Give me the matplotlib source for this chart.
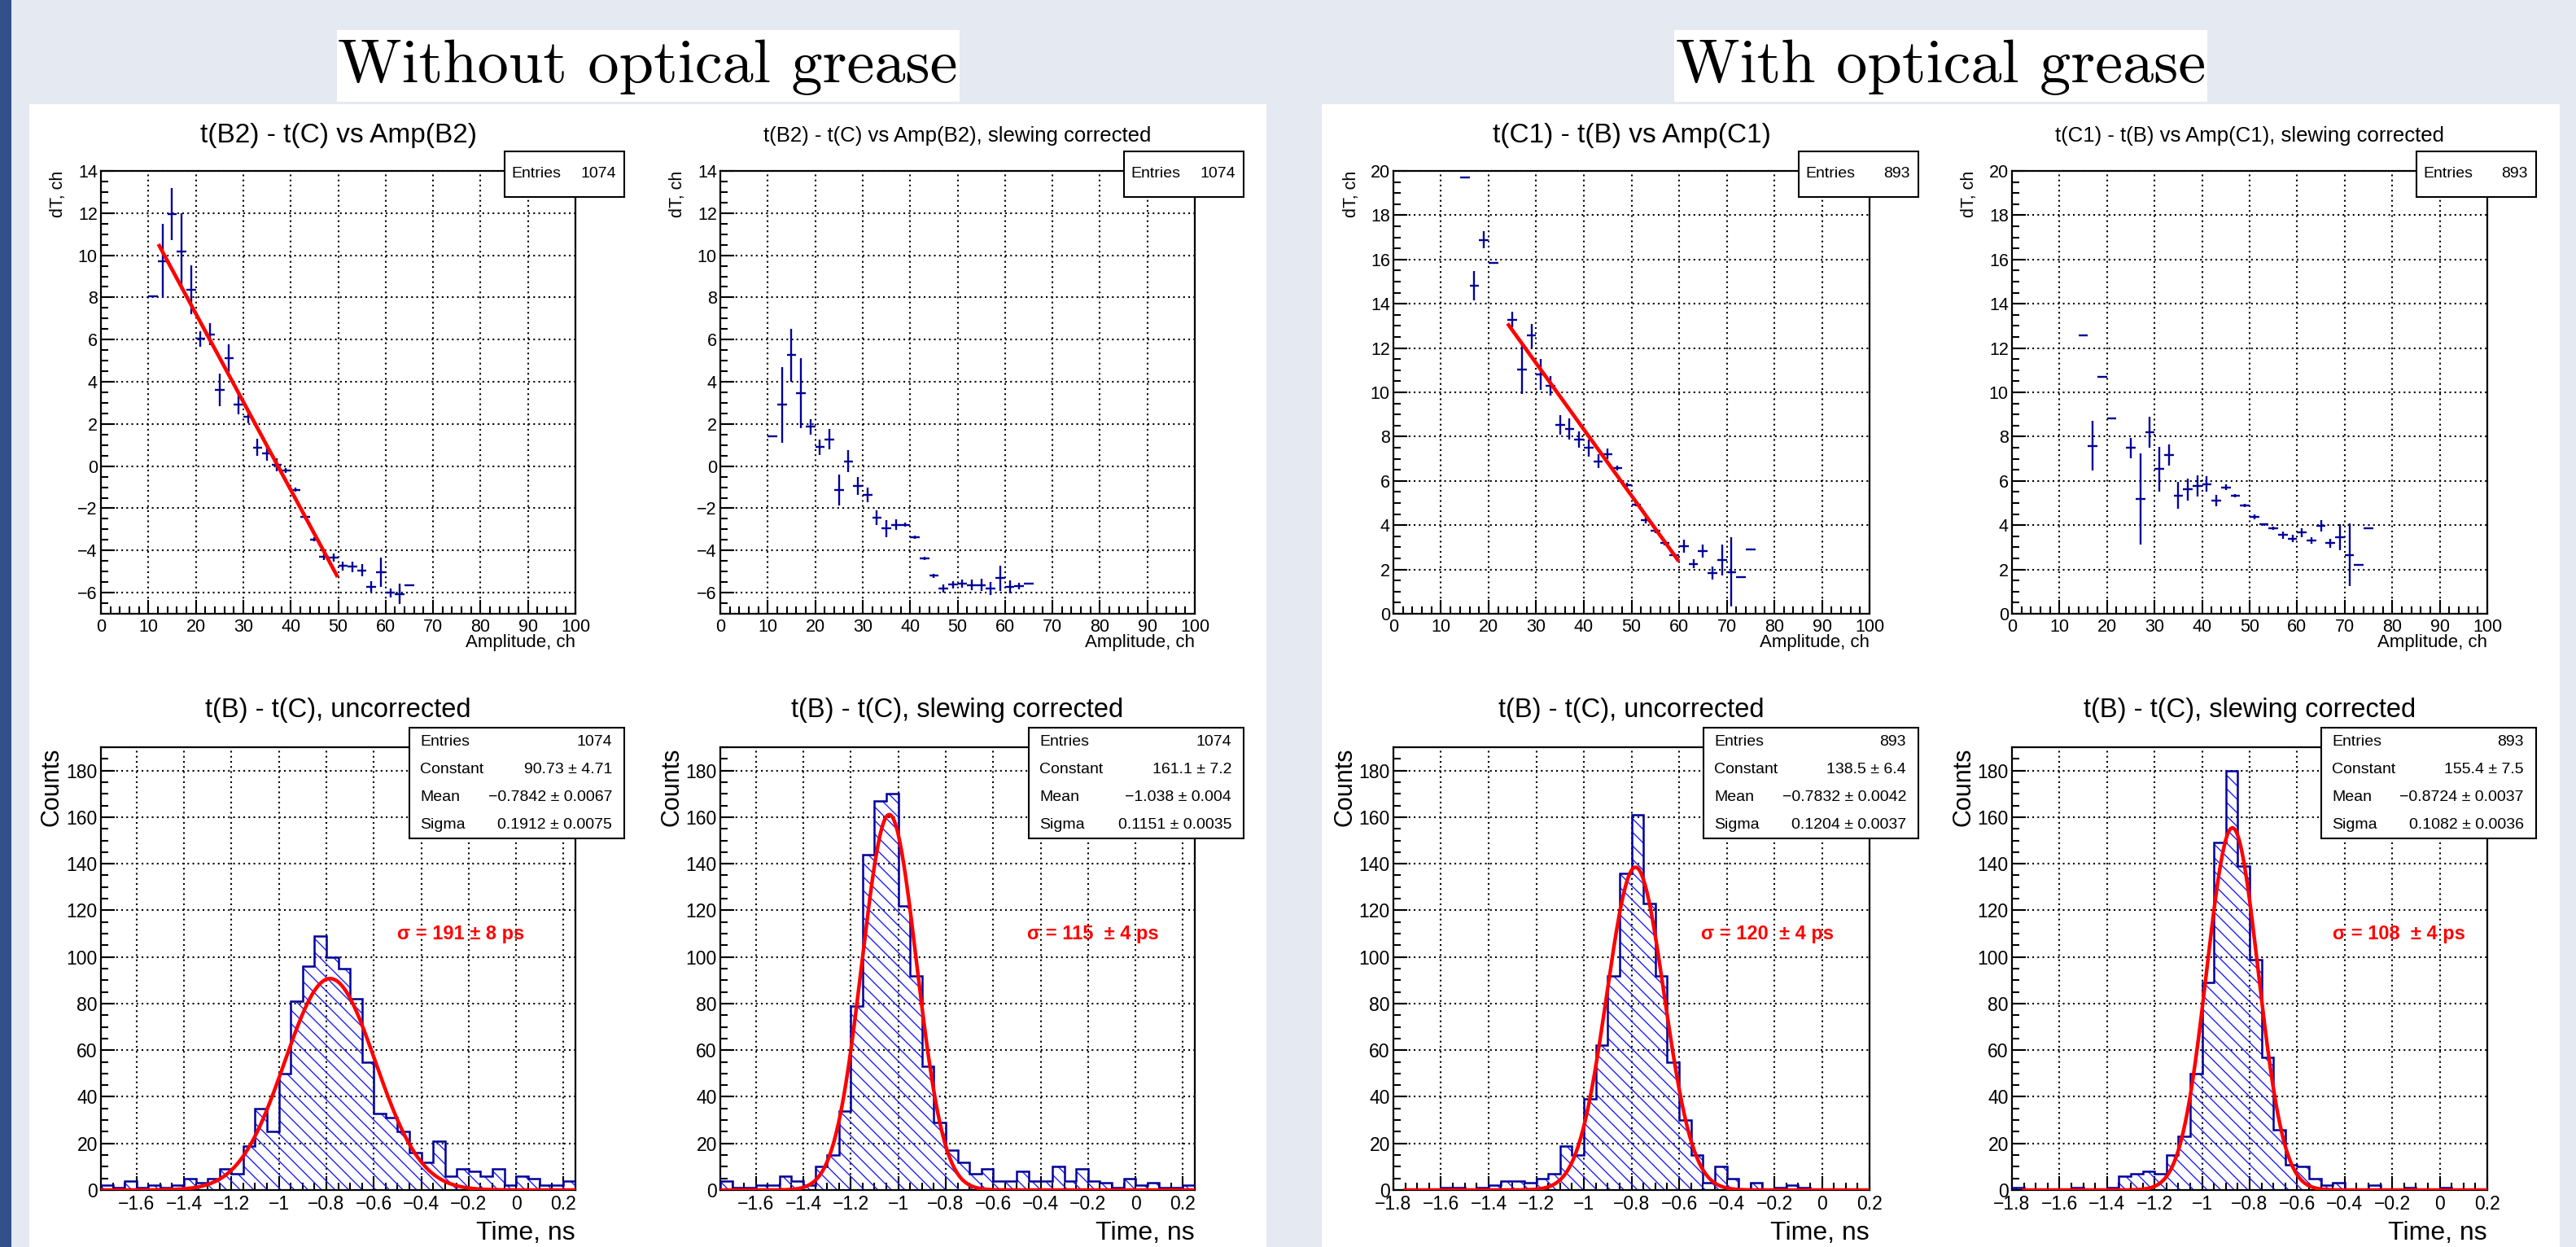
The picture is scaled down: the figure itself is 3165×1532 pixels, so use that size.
import numpy as np
import matplotlib
matplotlib.use("Agg")
import matplotlib.pyplot as plt
from matplotlib.patches import Rectangle
from matplotlib.ticker import MultipleLocator, FuncFormatter

plt.rcParams['font.family'] = ['Liberation Sans', 'DejaVu Sans']
plt.rcParams['hatch.linewidth'] = 1.0

# ---------------- data ----------------
# top row: profiles dT vs amplitude (bin centres, mean, error)
amp_x_b2 = [11, 13, 15, 17, 19, 21, 23, 25, 27, 29, 31, 33, 35, 37, 39, 41, 43, 45,
            47, 49, 51, 53, 55, 57, 59, 61, 63, 65]
dt_b2 = [8.06, 9.73, 11.96, 10.18, 8.37, 6.03, 6.25, 3.62, 5.11, 2.93, 2.33, 0.89, 0.59,
         0.07, -0.20, -1.12, -2.41, -3.47, -4.30, -4.34, -4.74, -4.77, -4.94, -5.71,
         -5.03, -6.01, -6.06, -5.63]
dt_b2_err = [0.05, 1.75, 1.23, 1.80, 1.15, 0.37, 0.53, 0.78, 0.65, 0.48, 0.30, 0.42, 0.33,
             0.30, 0.12, 0.10, 0.10, 0.10, 0.15, 0.20, 0.20, 0.25, 0.30, 0.25, 0.70, 0.20,
             0.48, 0.0]
dt_b2_corr = [1.41, 2.91, 5.26, 3.45, 1.86, 0.90, 1.27, -1.12, 0.22, -0.94, -1.36, -2.46,
              -2.96, -2.78, -2.78, -3.37, -4.36, -5.19, -5.80, -5.62, -5.56, -5.63, -5.63,
              -5.80, -5.31, -5.73, -5.70, -5.56]
dt_b2_corr_err = [0.05, 1.80, 1.26, 1.66, 0.35, 0.38, 0.48, 0.73, 0.52, 0.44, 0.34, 0.35,
                  0.40, 0.25, 0.10, 0.08, 0.08, 0.10, 0.20, 0.18, 0.20, 0.25, 0.30, 0.30,
                  0.60, 0.30, 0.15, 0.0]

amp_x_c1 = [15, 17, 19, 21, 25, 27, 29, 31, 33, 35, 37, 39, 41, 43, 45, 47, 49, 51, 53,
            55, 57, 59, 61, 63, 65, 67, 69, 71, 73, 75]
dt_c1 = [19.71, 14.82, 16.89, 15.86, 13.29, 11.04, 12.56, 10.80, 10.29, 8.53, 8.35, 7.87,
         7.49, 6.89, 7.22, 6.58, 5.82, 4.94, 4.21, 3.75, 3.19, 2.66, 3.06, 2.26, 2.84,
         1.83, 2.42, 1.88, 1.64, 2.92]
dt_c1_err = [0.0, 0.65, 0.40, 0.0, 0.36, 1.12, 0.52, 0.70, 0.45, 0.45, 0.47, 0.36, 0.38,
             0.30, 0.25, 0.10, 0.10, 0.10, 0.12, 0.10, 0.10, 0.10, 0.30, 0.20, 0.30, 0.30,
             0.70, 1.56, 0.0, 0.0]
dt_c1_corr = [12.59, 7.59, 10.71, 8.84, 7.49, 5.18, 8.21, 6.53, 7.17, 5.34, 5.61, 5.78,
              5.85, 5.10, 5.71, 5.34, 4.89, 4.38, 4.03, 3.87, 3.55, 3.40, 3.67, 3.30,
              3.98, 3.19, 3.46, 2.66, 2.20, 3.87]
dt_c1_corr_err = [0.0, 1.13, 0.0, 0.0, 0.46, 2.07, 0.70, 1.02, 0.49, 0.60, 0.50, 0.48,
                  0.35, 0.25, 0.12, 0.08, 0.08, 0.10, 0.06, 0.08, 0.15, 0.15, 0.20, 0.15,
                  0.25, 0.20, 0.60, 1.41, 0.0, 0.0]

# linear slewing fits (end points)
fit_b2_x = [12.3, 49.7]
fit_b2_y = [10.45, -5.18]
fit_c1_x = [24.2, 59.7]
fit_c1_y = [13.04, 2.44]

# bottom row: time difference histograms, bin width 0.05 ns
bin_w = 0.05
hist_start = [-1.75, -1.75, -1.75, -1.8]
h_uncorr_b = [2, 1, 4, 1, 2, 1, 2, 5, 3, 5, 9, 7, 19, 35, 25, 50, 81, 96, 109, 100,
              95, 82, 55, 33, 31, 25, 16, 12, 21, 6, 9, 8, 6, 9, 2, 6, 5, 2, 2, 4]
h_corr_b = [4, 1, 1, 2, 2, 6, 4, 2, 10, 15, 34, 79, 144, 167, 170, 122, 92, 53, 29, 17,
            12, 7, 9, 4, 4, 8, 4, 4, 10, 4, 9, 4, 3, 1, 5, 2, 3, 1, 1, 2]
h_uncorr_c = [0, 0, 0, 1, 1, 0, 1, 2, 4, 4, 3, 5, 7, 19, 15, 39, 62, 92, 136, 161,
              123, 92, 55, 30, 15, 3, 10, 5, 0, 3, 0, 1, 2, 1, 0, 0, 0, 0, 0]
h_corr_c = [1, 0, 0, 0, 0, 1, 0, 0, 1, 6, 7, 8, 7, 15, 23, 50, 89, 149, 180, 139,
            99, 57, 26, 11, 10, 5, 2, 3, 0, 0, 2, 0, 0, 1, 0, 0, 1, 0, 0, 0]

# gaussian fit results
g_const = [90.73, 161.1, 138.5, 155.4]
g_mean = [-0.7842, -1.038, -0.7832, -0.8724]
g_sigma = [0.1912, 0.1151, 0.1204, 0.1082]
g_range = [(-1.75, 0.25), (-1.75, 0.25), (-1.75, 0.2), (-1.75, 0.2)]
entries = ["1074", "1074", "893", "893"]
const_txt = ["90.73 \u00b1 4.71", "161.1 \u00b1 7.2", "138.5 \u00b1 6.4", "155.4 \u00b1 7.5"]
mean_txt = ["\u22120.7842 \u00b1 0.0067", "\u22121.038 \u00b1 0.004",
            "\u22120.7832 \u00b1 0.0042", "\u22120.8724 \u00b1 0.0037"]
sigma_txt = ["0.1912 \u00b1 0.0075", "0.1151 \u00b1 0.0035",
             "0.1204 \u00b1 0.0037", "0.1082 \u00b1 0.0036"]
res_txt = ["\u03c3 = 191 \u00b1 8 ps", "\u03c3 = 115  \u00b1 4 ps",
           "\u03c3 = 120  \u00b1 4 ps", "\u03c3 = 108  \u00b1 4 ps"]

top_titles = ["t(B2) - t(C) vs Amp(B2)", "t(B2) - t(C) vs Amp(B2), slewing corrected",
              "t(C1) - t(B) vs Amp(C1)", "t(C1) - t(B) vs Amp(C1), slewing corrected"]
bottom_titles = ["t(B) - t(C), uncorrected", "t(B) - t(C), slewing corrected",
                 "t(B) - t(C), uncorrected", "t(B) - t(C), slewing corrected"]

# ---------------- layout ----------------
W, H = 3165, 1532
fig = plt.figure(figsize=(W / 100, H / 100), dpi=100)
fig.patch.set_facecolor('#e4e9f2')
navy = '#000099'


def rect(x0, y0, x1, y1):
    return [x0 / W, 1 - y1 / H, (x1 - x0) / W, (y1 - y0) / H]


def ftext(x, y, s, **kw):
    return fig.text(x / W, 1 - y / H, s, **kw)


def box(x0, y0, x1, y1, z=5, lw=1.5, ec='black'):
    fig.add_artist(Rectangle((x0 / W, 1 - y1 / H), (x1 - x0) / W, (y1 - y0) / H,
                             transform=fig.transFigure, facecolor='white',
                             edgecolor=ec, lw=lw, zorder=z))


def fmt(v, pos):
    return ('%g' % round(v, 6)).replace('-', '\u2212')


def style(ax, xmaj, xmin, ymaj, ymin, fs):
    ax.xaxis.set_major_locator(MultipleLocator(xmaj))
    ax.xaxis.set_minor_locator(MultipleLocator(xmin))
    ax.yaxis.set_major_locator(MultipleLocator(ymaj))
    ax.yaxis.set_minor_locator(MultipleLocator(ymin))
    ax.xaxis.set_major_formatter(FuncFormatter(fmt))
    ax.yaxis.set_major_formatter(FuncFormatter(fmt))
    ax.tick_params(which='both', direction='in', top=False, right=False,
                   width=1.5, labelsize=fs)
    ax.tick_params(which='major', length=12)
    ax.tick_params(which='minor', length=6.5)
    ax.tick_params(axis='x', pad=4)
    ax.tick_params(axis='y', pad=3)
    ax.grid(True, which='major', color='black', linestyle=(0, (1, 2)), linewidth=1.5)
    ax.set_axisbelow(True)
    for sp in ax.spines.values():
        sp.set_linewidth(1.6)


# page background pieces
box(0, 0, 14, H, z=-5, lw=0, ec='#34508a')
fig.artists[-1].set_facecolor('#34508a')
box(36, 128, 1556, H + 5, z=-5, lw=0, ec='white')
box(1624, 128, 3145, H + 5, z=-5, lw=0, ec='white')
box(414, 37, 1179, 125, z=-5, lw=0, ec='white')
box(2057, 37, 2712, 125, z=-5, lw=0, ec='white')
ftext(796, 83, "Without optical grease", family='cmr10', fontsize=55,
      ha='center', va='center')
ftext(2385, 83, "With optical grease", family='cmr10', fontsize=55,
      ha='center', va='center')

cols = [(124, 707), (885, 1468), (1712, 2297), (2472, 3056)]
top_y = (210, 754)
bot_y = (918, 1462)

prof_x = [amp_x_b2, amp_x_b2, amp_x_c1, amp_x_c1]
prof_y = [dt_b2, dt_b2_corr, dt_c1, dt_c1_corr]
prof_e = [dt_b2_err, dt_b2_corr_err, dt_c1_err, dt_c1_corr_err]
fits = [(fit_b2_x, fit_b2_y), None, (fit_c1_x, fit_c1_y), None]
ylims = [(-7, 14), (-7, 14), (0, 20), (0, 20)]
top_title_fs = [24, 18.5, 24, 18.5]

for i in range(4):
    x0, x1 = cols[i]
    ax = fig.add_axes(rect(x0, top_y[0], x1, top_y[1]))
    ax.errorbar(prof_x[i], prof_y[i], xerr=1.0, yerr=prof_e[i], fmt='none',
                ecolor=navy, elinewidth=1.7, capsize=0, zorder=3)
    if fits[i] is not None:
        ax.plot(fits[i][0], fits[i][1], color='red', lw=3.3, zorder=4)
    ax.set_xlim(0, 100)
    ax.set_ylim(*ylims[i])
    style(ax, 10, 2, 2, 0.5, 15.5)
    ftext((x0 + x1) / 2, 167, top_titles[i], fontsize=top_title_fs[i],
          ha='center', va='center')
    ftext(x0 - 52, top_y[0], "dT, ch", fontsize=15.5, rotation=90,
          ha='center', va='top')
    ftext(x1, 789, "Amplitude, ch", fontsize=16, ha='right', va='center')
    box(x1 - 87, 186, x1 + 60, 242)
    ftext(x1 - 79, 214, "Entries", fontsize=14, ha='left', va='center', zorder=6)
    ftext(x1 + 50, 214, entries[i], fontsize=14, ha='right', va='center', zorder=6)

hists = [h_uncorr_b, h_corr_b, h_uncorr_c, h_corr_c]
xlims = [(-1.75, 0.25), (-1.75, 0.25), (-1.8, 0.2), (-1.8, 0.2)]
res_x = [-0.50, -0.457, -0.508, -0.45]

for i in range(4):
    x0, x1 = cols[i]
    ax = fig.add_axes(rect(x0, bot_y[0], x1, bot_y[1]))
    vals = np.array(hists[i], dtype=float)
    edges = hist_start[i] + bin_w * np.arange(len(vals) + 1)
    ax.stairs(vals, edges, baseline=0, fill=True, facecolor='none',
              edgecolor='#2020ff', hatch='\\\\', linewidth=0, zorder=2)
    ax.stairs(vals, edges, baseline=0, color=navy, linewidth=1.8, zorder=3)
    gx = np.linspace(g_range[i][0], g_range[i][1], 500)
    gy = g_const[i] * np.exp(-0.5 * ((gx - g_mean[i]) / g_sigma[i]) ** 2)
    ax.plot(gx, gy, color='red', lw=3.2, zorder=4)
    ax.set_xlim(*xlims[i])
    ax.set_ylim(0, 190)
    style(ax, 0.2, 0.05, 20, 5, 16.5)
    ax.text(res_x[i], 110, res_txt[i], color='red', fontsize=17, fontweight='bold',
            ha='left', va='center', zorder=5)
    ftext((x0 + x1) / 2, 873, bottom_titles[i], fontsize=23.5, ha='center', va='center')
    ftext(x0 - 60, bot_y[0], "Counts", fontsize=22, rotation=90, ha='center', va='top')
    ftext(x1, 1515, "Time, ns", fontsize=23, ha='right', va='center')
    bx0, bx1 = x1 - 204, x1 + 60
    box(bx0, 894, bx1, 1030)
    rows = [("Entries", entries[i]), ("Constant", const_txt[i]),
            ("Mean", mean_txt[i]), ("Sigma", sigma_txt[i])]
    for (lab, val), yy in zip(rows, [912, 946, 980, 1013]):
        ftext(bx0 + 13, yy, lab, fontsize=14, ha='left', va='center', zorder=6)
        ftext(bx1 - 15, yy, val, fontsize=14, ha='right', va='center', zorder=6)

fig.savefig("out.png", dpi=100, facecolor=fig.get_facecolor())
